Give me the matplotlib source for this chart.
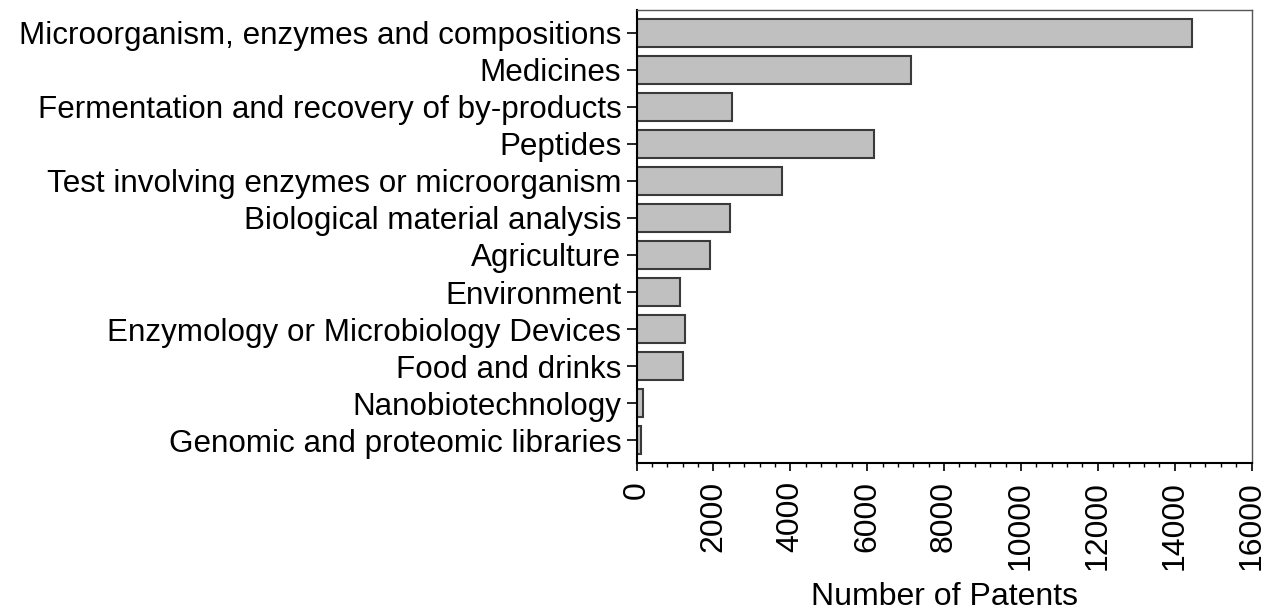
import numpy as np
import matplotlib.pyplot as plt
from matplotlib.ticker import MultipleLocator

plt.rcParams['font.family'] = ['Liberation Sans', 'DejaVu Sans']

# Patent counts per category (top to bottom)
categories = [
    'Microorganism, enzymes and compositions',
    'Medicines',
    'Fermentation and recovery of by-products',
    'Peptides',
    'Test involving enzymes or microorganism',
    'Biological material analysis',
    'Agriculture',
    'Environment',
    'Enzymology or Microbiology Devices',
    'Food and drinks',
    'Nanobiotechnology',
    'Genomic and proteomic libraries',
]
patents = [14440, 7140, 2490, 6170, 3790, 2440, 1900, 1130, 1260, 1220, 170, 110]
xticks = [0, 2000, 4000, 6000, 8000, 10000, 12000, 14000, 16000]

fig = plt.figure(figsize=(12.68, 6.15), dpi=100)
ax = fig.add_axes([0.502, 0.247, 0.485, 0.737])

y = np.arange(len(categories))
ax.barh(y, patents, height=0.75, color='#c0c0c0', edgecolor='#3a3a3a', linewidth=1.5)

ax.set_ylim(len(categories) - 0.38, -0.62)
ax.set_xlim(0, 16000)
ax.set_yticks(y)
ax.set_yticklabels(categories, fontsize=22.6)
ax.set_xticks(xticks)
ax.set_xticklabels([str(v) for v in xticks], rotation=90, fontsize=23)
ax.xaxis.set_minor_locator(MultipleLocator(400))
ax.tick_params(axis='y', direction='out', length=7, width=1.2, pad=4)
ax.tick_params(axis='x', which='major', direction='out', length=6, width=1.2, pad=7)
ax.tick_params(axis='x', which='minor', direction='out', length=3, width=1)
ax.set_xlabel('Number of Patents', fontsize=23)
ax.xaxis.set_label_coords(0.5, -0.262)
ax.xaxis.label.set_va('top')

for s in ax.spines.values():
    s.set_linewidth(1.0)
    s.set_color('#555555')
ax.spines['bottom'].set_color('black')
ax.spines['bottom'].set_linewidth(1.5)
ax.spines['left'].set_color('black')
ax.spines['left'].set_linewidth(1.5)

fig.savefig('out.png', dpi=100)
